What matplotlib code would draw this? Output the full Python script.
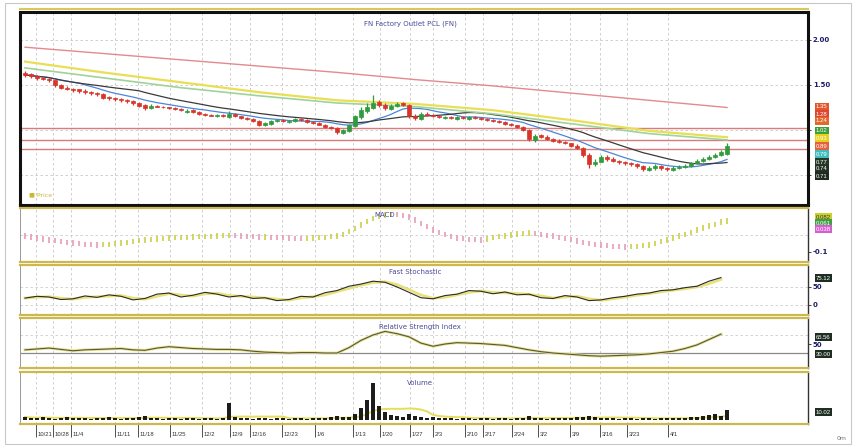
import numpy as np
import pandas as pd
import matplotlib
matplotlib.use("Agg")
import matplotlib.pyplot as plt
from matplotlib.lines import Line2D
from matplotlib.patches import Rectangle
import matplotlib.transforms as mtrans

# ---------------- data ----------------
title = "FN Factory Outlet PCL (FN)"
closes = [1.61,1.60,1.58,1.57,1.55,1.50,1.47,1.46,1.44,1.43,
          1.42,1.41,1.40,1.36,1.35,1.34,1.33,1.32,1.30,1.27,
          1.24,1.27,1.26,1.25,1.24,1.23,1.22,1.21,1.20,1.18,
          1.17,1.16,1.17,1.15,1.18,1.15,1.13,1.12,1.10,1.06,
          1.08,1.10,1.11,1.10,1.10,1.12,1.11,1.09,1.08,1.06,
          1.03,1.02,0.98,1.00,1.05,1.15,1.22,1.25,1.30,1.28,
          1.24,1.27,1.29,1.28,1.15,1.13,1.18,1.17,1.15,1.14,
          1.14,1.13,1.14,1.13,1.14,1.13,1.12,1.11,1.10,1.09,
          1.07,1.05,1.03,1.00,0.90,0.93,0.92,0.90,0.88,0.87,
          0.85,0.82,0.80,0.72,0.62,0.65,0.70,0.68,0.66,0.64,
          0.63,0.62,0.60,0.57,0.58,0.60,0.58,0.57,0.58,0.59,
          0.60,0.63,0.66,0.68,0.70,0.72,0.75,0.82]
opens = [1.63,1.62,1.60,1.58,1.57,1.55,1.50,1.47,1.45,1.45,
         1.43,1.42,1.41,1.40,1.37,1.35,1.34,1.33,1.32,1.30,
         1.28,1.24,1.27,1.26,1.25,1.24,1.23,1.20,1.22,1.20,
         1.18,1.17,1.15,1.17,1.14,1.18,1.15,1.13,1.12,1.10,
         1.06,1.07,1.10,1.11,1.09,1.10,1.12,1.11,1.09,1.08,
         1.06,1.03,1.02,0.97,0.99,1.04,1.14,1.21,1.24,1.31,
         1.28,1.23,1.27,1.30,1.28,1.16,1.12,1.18,1.17,1.15,
         1.13,1.14,1.12,1.14,1.12,1.14,1.13,1.12,1.11,1.10,
         1.09,1.07,1.05,1.03,1.00,0.89,0.94,0.92,0.90,0.88,
         0.87,0.85,0.82,0.80,0.72,0.62,0.65,0.70,0.68,0.66,
         0.64,0.63,0.62,0.60,0.56,0.58,0.60,0.58,0.56,0.58,
         0.59,0.60,0.63,0.66,0.68,0.70,0.72,0.73]
highs = [1.65,1.63,1.61,1.60,1.58,1.56,1.51,1.49,1.47,1.46,
         1.45,1.43,1.42,1.41,1.38,1.37,1.35,1.34,1.33,1.31,
         1.29,1.29,1.28,1.27,1.26,1.25,1.24,1.23,1.23,1.21,
         1.19,1.18,1.18,1.18,1.21,1.19,1.16,1.14,1.13,1.11,
         1.09,1.11,1.12,1.12,1.11,1.13,1.13,1.12,1.10,1.09,
         1.07,1.04,1.03,1.01,1.07,1.17,1.25,1.30,1.39,1.33,
         1.30,1.29,1.31,1.31,1.29,1.18,1.20,1.20,1.18,1.16,
         1.16,1.15,1.15,1.15,1.15,1.15,1.14,1.13,1.12,1.11,
         1.10,1.08,1.06,1.04,1.01,0.95,0.95,0.94,0.91,0.90,
         0.88,0.86,0.84,0.81,0.74,0.68,0.72,0.72,0.70,0.67,
         0.66,0.65,0.63,0.61,0.60,0.62,0.61,0.59,0.60,0.61,
         0.62,0.65,0.68,0.70,0.72,0.74,0.78,0.86]
lows = [1.59,1.58,1.56,1.55,1.53,1.48,1.45,1.44,1.42,1.41,
        1.40,1.39,1.38,1.34,1.33,1.32,1.31,1.30,1.28,1.25,
        1.22,1.23,1.25,1.24,1.23,1.22,1.21,1.19,1.19,1.17,
        1.16,1.15,1.14,1.14,1.13,1.14,1.12,1.11,1.09,1.04,
        1.04,1.06,1.09,1.09,1.08,1.09,1.10,1.08,1.07,1.05,
        1.02,1.01,0.95,0.96,0.98,1.03,1.12,1.19,1.23,1.26,
        1.22,1.22,1.26,1.27,1.13,1.11,1.11,1.15,1.14,1.13,
        1.12,1.12,1.11,1.12,1.11,1.12,1.11,1.10,1.09,1.08,
        1.06,1.04,1.02,0.99,0.88,0.87,0.91,0.89,0.87,0.86,
        0.84,0.81,0.79,0.70,0.58,0.60,0.64,0.66,0.64,0.62,
        0.61,0.60,0.58,0.55,0.54,0.56,0.56,0.55,0.55,0.57,
        0.58,0.59,0.62,0.65,0.67,0.69,0.71,0.72]
volumes = [3,2,2,3,2,1,2,3,2,2,
           2,1,2,2,3,2,1,2,2,3,
           4,2,2,1,2,2,1,2,2,1,
           2,2,1,2,17,3,2,2,1,2,
           2,1,2,2,1,2,2,1,2,2,
           2,3,4,3,3,6,12,20,37,14,
           8,5,4,3,6,4,3,2,3,2,
           2,2,1,2,2,1,2,2,1,2,
           2,1,2,2,4,2,2,1,2,2,
           2,2,3,3,4,3,2,2,2,1,
           2,2,1,2,2,1,2,2,2,2,
           2,3,3,4,5,6,4,10]

# long moving averages, sampled every 13 bars (bars 0,13,...,117)
long_ma_bars = [0, 13, 26, 39, 52, 65, 78, 91, 104, 117]
ma_long_red = [1.92, 1.85, 1.78, 1.71, 1.64, 1.56, 1.49, 1.41, 1.33, 1.25]
ma_long_yellow = [1.76, 1.64, 1.53, 1.42, 1.33, 1.29, 1.22, 1.11, 0.99, 0.92]
ma_long_green = [1.69, 1.58, 1.47, 1.38, 1.30, 1.26, 1.18, 1.07, 0.96, 0.89]

# horizontal support/resistance levels
levels = [1.022, 0.889, 0.789]

macd = [-0.006,-0.012,-0.018,-0.024,-0.029,-0.034,-0.039,-0.043,
        -0.047,-0.050,-0.054,-0.057,-0.059,-0.057,-0.054,-0.050,
        -0.047,-0.042,-0.037,-0.033,-0.029,-0.026,-0.023,-0.020,
        -0.018,-0.016,-0.015,-0.013,-0.012,-0.010,-0.008,-0.007,
        -0.006,-0.005,-0.004,-0.005,-0.006,-0.008,-0.010,-0.012,
        -0.012,-0.014,-0.016,-0.017,-0.018,-0.019,-0.020,-0.019,
        -0.018,-0.016,-0.013,-0.010,-0.006,0.004,0.020,0.040,
        0.059,0.078,0.095,0.108,0.118,0.121,0.119,0.114,
        0.106,0.088,0.068,0.048,0.029,0.016,0.004,-0.008,
        -0.018,-0.022,-0.026,-0.028,-0.029,-0.024,-0.016,-0.010,
        -0.006,0.000,0.006,0.010,0.012,0.008,0.003,-0.002,
        -0.006,-0.014,-0.021,-0.028,-0.035,-0.042,-0.050,-0.055,
        -0.059,-0.063,-0.066,-0.069,-0.071,-0.069,-0.066,-0.063,
        -0.059,-0.050,-0.040,-0.029,-0.018,-0.006,0.005,0.017,
        0.029,0.041,0.053,0.064,0.076,0.082]

# oscillators sampled every 2 bars (bars 0,2,...,116)
stoch_k = [19,24,22,15,17,25,21,28,24,14,18,30,33,22,27,35,30,22,26,18,
           20,12,15,24,22,34,40,52,58,66,63,50,35,20,17,26,30,40,38,31,
           36,28,30,20,18,26,22,12,14,20,24,30,33,40,42,48,52,66,76]
rsi = [37,39,41,38,35,37,38,39,40,37,36,41,44,42,40,39,38,38,37,34,
       32,31,30,31,31,30,30,42,58,70,78,73,66,52,45,50,53,52,51,49,
       47,42,37,33,30,28,26,24,23,24,25,26,28,31,34,40,48,60,72]

tick_pos = [1.8, 4.6, 7.6, 15, 18.8, 24.2, 29.5, 34.2, 37.5, 42.8, 48.3, 54.7,
            59.2, 64.2, 68, 73.3, 76.3, 81.2, 85.5, 90.8, 95.8, 100.3, 107.2]
tick_labels = ["10/21", "10/28", "11/4", "11/11", "11/18", "11/25", "12/2",
               "12/9", "12/16", "12/23", "1/6", "1/13", "1/20", "1/27", "2/3",
               "2/10", "2/17", "2/24", "3/2", "3/9", "3/16", "3/23", "4/1"]

# ---------------- figure ----------------
W, H = 856, 448
fig = plt.figure(figsize=(W / 100, H / 100), dpi=100)
fig.patch.set_facecolor("white")

def add_panel(top, bottom):
    return fig.add_axes([20 / W, 1 - bottom / H, 788 / W, (bottom - top) / H])

ax_p = add_panel(12, 205)
ax_m = add_panel(208, 262)
ax_s = add_panel(265, 315)
ax_r = add_panel(318, 368)
ax_v = add_panel(372, 424)
axes = [ax_p, ax_m, ax_s, ax_r, ax_v]

idx = np.arange(len(closes))
c = np.array(closes); o = np.array(opens)
hi = np.array(highs); lo = np.array(lows)
XL = (-0.83, 130.5)
txt_col = "#4b4b9c"

for ax in axes:
    ax.set_xlim(*XL)
    ax.set_facecolor("white")
    ax.set_xticks(tick_pos)
    ax.grid(axis="x", color="#c8c8c8", ls=(0, (3, 3)), lw=0.6)
    ax.yaxis.tick_right()
    ax.tick_params(axis="y", labelsize=5, colors="#222222", length=2,
                   width=0.6, pad=1.5)
    ax.tick_params(axis="x", labelbottom=False, length=0)
    for sp in ["top", "bottom"]:
        ax.spines[sp].set_color("#cdb84e")
        ax.spines[sp].set_linewidth(1.6)
    ax.spines["left"].set_color("#999999")
    ax.spines["left"].set_linewidth(0.7)
    ax.spines["right"].set_color("#333333")
    ax.spines["right"].set_linewidth(1.0)
    ax.set_axisbelow(True)

# ---- price panel ----
ax_p.set_ylim(0.1667, 2.311)
up = c >= o
col = np.where(up, "#2f9b3c", "#d8352a")
ax_p.vlines(idx, lo, hi, colors=col, lw=0.9, zorder=3)
ax_p.bar(idx, np.abs(c - o), bottom=np.minimum(c, o), width=0.8,
         color=col, edgecolor=col, lw=0.5, zorder=4)
cs = pd.Series(closes)
ax_p.plot(idx, cs.rolling(10, min_periods=1).mean(), color="#4a86d8", lw=0.9, zorder=2)
ax_p.plot(idx, cs.rolling(20, min_periods=1).mean(), color="#3a3a3a", lw=0.9, zorder=2)
ax_p.plot(long_ma_bars, ma_long_red, color="#e3898f", lw=1.0, zorder=2)
ax_p.plot(long_ma_bars, ma_long_yellow, color="#e8df55", lw=1.6, zorder=2)
ax_p.plot(long_ma_bars, ma_long_green, color="#9fd39a", lw=1.2, zorder=2)
for lv in levels:
    ax_p.axhline(lv, color="#d97b7b", lw=1.0, zorder=1)
ax_p.set_yticks([0.5, 1.0, 1.5, 2.0])
ax_p.set_yticklabels(["", "", "1.50", "2.00"], fontweight="bold", color="#1b1b6b")
ax_p.grid(axis="y", color="#c8c8c8", ls=(0, (3, 3)), lw=0.6)
for sp in ax_p.spines.values():
    sp.set_color("#111111")
    sp.set_linewidth(2.2)
ax_p.text(0.495, 0.958, title, transform=ax_p.transAxes, ha="center", va="top",
          fontsize=5, color=txt_col)
ax_p.text(0.012, 0.04, "\u25a0 Price", transform=ax_p.transAxes, ha="left",
          va="bottom", fontsize=4.5, color="#c9b832")

# ---- MACD ----
ax_m.set_ylim(-0.159, 0.159)
mac = np.array(macd)
rising = np.concatenate([[mac[1] >= mac[0]], np.diff(mac) >= 0])
mcol = np.where(rising, "#c6cc38", "#e792b4")
ax_m.scatter(idx, mac, marker="|", s=14, c=mcol, linewidths=1.1, zorder=3)
ax_m.axhline(0, color="#cccccc", ls=(0, (3, 3)), lw=0.6)
ax_m.set_yticks([-0.1])
ax_m.set_yticklabels(["-0.1"], fontweight="bold", color="#1b1b6b")
ax_m.text(0.463, 0.93, "MACD", transform=ax_m.transAxes, ha="center", va="top",
          fontsize=5, color=txt_col)

# ---- Fast stochastic ----
ax_s.set_ylim(-28, 111)
sb = np.arange(0, 2 * len(stoch_k), 2)
sk = pd.Series(stoch_k)
ax_s.plot(sb, sk.rolling(2, min_periods=1).mean(), color="#e9e27a", lw=2.0, zorder=2)
ax_s.plot(sb, sk, color="#2a2a2a", lw=0.8, zorder=3)
ax_s.axhline(50, color="#cccccc", ls=(0, (3, 3)), lw=0.6)
ax_s.axhline(0, color="#cccccc", ls=(0, (3, 3)), lw=0.6)
ax_s.set_yticks([0, 50])
ax_s.set_yticklabels(["0", "50"], fontweight="bold", color="#1b1b6b")
ax_s.text(0.501, 0.92, "Fast Stochastic", transform=ax_s.transAxes, ha="center",
          va="top", fontsize=5, color=txt_col)

# ---- RSI ----
ax_r.set_ylim(-3.3, 107.8)
rb = np.arange(0, 2 * len(rsi), 2)
ax_r.plot(rb, rsi, color="#e9e27a", lw=2.0, zorder=2)
ax_r.plot(rb, rsi, color="#555555", lw=0.8, zorder=3)
ax_r.axhline(30, color="#8a8a8a", lw=0.9, zorder=1)
ax_r.axhline(70, color="#cccccc", ls=(0, (3, 3)), lw=0.6)
ax_r.set_yticks([50])
ax_r.set_yticklabels(["50"], fontweight="bold", color="#1b1b6b")
ax_r.text(0.508, 0.88, "Relative Strength Index", transform=ax_r.transAxes,
          ha="center", va="top", fontsize=5, color=txt_col)

# ---- Volume ----
ax_v.set_ylim(-4, 48)
ax_v.bar(idx, volumes, width=0.6, color="#1c1c1c", zorder=3)
ax_v.plot(idx, pd.Series(volumes).rolling(10, min_periods=1).mean(),
          color="#e6dd5c", lw=1.4, zorder=2)
ax_v.set_yticks([])
ax_v.text(0.508, 0.85, "Volume", transform=ax_v.transAxes, ha="center", va="top",
          fontsize=5, color=txt_col)
ax_v.tick_params(axis="x", labelbottom=True, length=9, width=0.6, direction="out",
                 labelsize=4.2, colors="#333333", pad=-9)
ax_v.set_xticklabels(tick_labels, family="Liberation Sans")
shift = mtrans.ScaledTranslation(1.2 / 72, -5.5 / 72, fig.dpi_scale_trans)
for lbl in ax_v.get_xticklabels():
    lbl.set_ha("left")
    lbl.set_va("top")
    lbl.set_transform(lbl.get_transform() + shift)
for ax in axes:
    ax.set_xlim(*XL)

# ---- right side value boxes ----
def box(ypx, s, fc, tc="white"):
    fig.text(816 / W, 1 - ypx / H, s, fontsize=4.3, color=tc, ha="left", va="center",
             family="Liberation Sans",
             bbox=dict(boxstyle="square,pad=0.2", fc=fc, ec="none"))

main_boxes = [(107, "1.35", "#e2572b"), (114, "1.28", "#e0452f"),
              (121, "1.24", "#e2692c"), (131, "1.02", "#3c9e3a"),
              (138, "0.93", "#e4d21e"), (146, "0.89", "#e3623c"),
              (154, "0.79", "#41bdbf"), (162, "0.77", "#263826"),
              (169, "0.74", "#243024"), (176, "0.71", "#1f2a1f")]
for ypx, s, fc in main_boxes:
    box(ypx, s, fc)
box(217, "0.082", "#c9d12e", "#333333")
box(223, "0.061", "#3f9f42")
box(229, "0.038", "#d65fd0")
box(278, "75.12", "#1f2e22")
box(337, "65.56", "#1f2e22")
box(354, "30.00", "#1f2e22")
box(412, "10.02", "#1f2e22")
fig.text(842 / W, 1 - 438 / H, "0m", fontsize=4.5, color="#777777", ha="center",
         va="center")

# ---- frame decorations ----
fig.add_artist(Line2D([20 / W, 808 / W], [1 - 9 / H, 1 - 9 / H], color="#d8c95a",
                      lw=1.5))
fig.add_artist(Rectangle((5 / W, 4 / H), 846 / W, 441 / H, fill=False,
                         ec="#c8c8c8", lw=0.8))

fig.savefig("out.png", dpi=100, facecolor="white")
